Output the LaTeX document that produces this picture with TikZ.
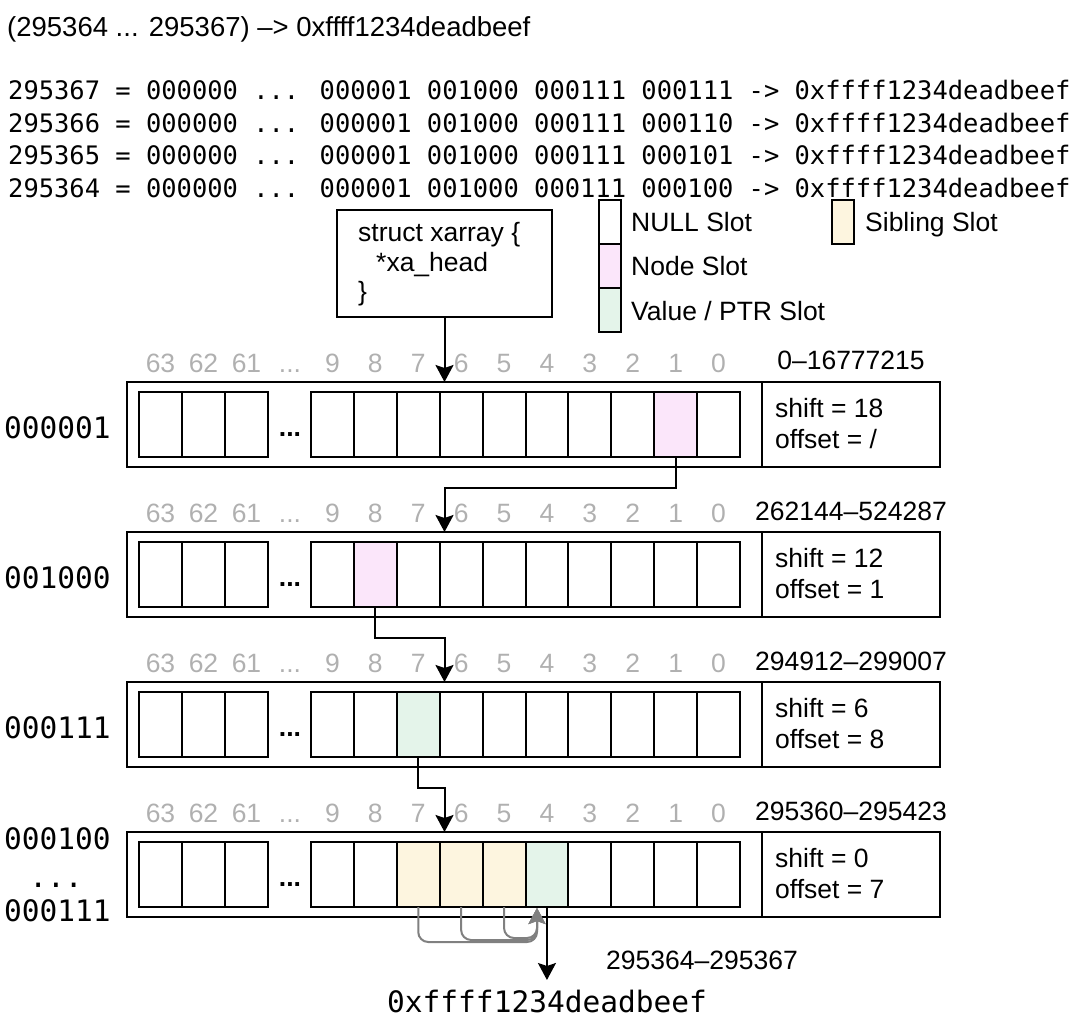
\documentclass[tikz,border=0pt]{standalone}
\usepackage{fontspec}
\setmainfont{Liberation Sans}
\newfontfamily\monofont{DejaVu Sans Mono}
\usetikzlibrary{arrows.meta}
\definecolor{nodec}{HTML}{FBE6FA}
\definecolor{valc}{HTML}{E4F4EA}
\definecolor{sibc}{HTML}{FDF5DF}
\definecolor{lblgrey}{HTML}{B0B0B0}
\definecolor{linkgrey}{HTML}{808080}
\begin{document}
\begin{tikzpicture}[x=1pt,y=-1pt,
  box/.style={draw, line width=2pt, inner sep=0pt, outer sep=0pt},
  slotbox/.style={box, minimum width=42.9pt, minimum height=65pt, anchor=north west},
  sans/.style={font=\fontsize{26.5}{31}\selectfont, inner sep=0pt},
  mono/.style={font=\monofont\fontsize{25.45}{30}\selectfont, inner sep=0pt, anchor=base west},
  bigmono/.style={font=\monofont\fontsize{29.5}{34}\selectfont, inner sep=0pt},
  lbl/.style={sans, text=lblgrey, anchor=base},
  arr/.style={line width=2pt, -{Stealth[length=17pt,width=18pt,inset=3pt]}},
  garr/.style={line width=2pt, linkgrey, rounded corners=10pt, -{Stealth[length=16pt,width=17pt,inset=3pt]}},
  f0-1/.style={fill=nodec},
  f1-8/.style={fill=nodec},
  f2-7/.style={fill=valc},
  f3-7/.style={fill=sibc},
  f3-6/.style={fill=sibc},
  f3-5/.style={fill=sibc},
  f3-4/.style={fill=valc}]
\useasboundingbox (0,0) rectangle (1080,1035);

% title and mono lines
\node[sans, font=\fontsize{27.5}{32}\selectfont, anchor=base west] (title) at (7,37) {(295364 ... 295367) –> 0xffff1234deadbeef};
\node[mono] (l1) at (8,100) {295367 = 000000 ... 000001 001000 000111 000111 -> 0xffff1234deadbeef};
\node[mono] (l2) at (8,132.5) {295366 = 000000 ... 000001 001000 000111 000110 -> 0xffff1234deadbeef};
\node[mono] (l3) at (8,165) {295365 = 000000 ... 000001 001000 000111 000101 -> 0xffff1234deadbeef};
\node[mono] (l4) at (8,197.5) {295364 = 000000 ... 000001 001000 000111 000100 -> 0xffff1234deadbeef};

% struct box
\node[box, minimum width=215pt, minimum height=107pt, anchor=north west] (xa) at (337,210) {};
\node[sans, anchor=base west] (xa1) at (358,242) {struct xarray \{};
\node[sans, anchor=base west] (xa2) at (376,272) {*xa\_head};
\node[sans, anchor=base west] (xa3) at (358,301) {\}};

% legend
\node[box, minimum width=22pt, minimum height=44pt, anchor=north west] (lnull) at (599,200) {};
\node[box, fill=nodec, minimum width=22pt, minimum height=44pt, anchor=north west] (lnode) at (599,244) {};
\node[box, fill=valc, minimum width=22pt, minimum height=44pt, anchor=north west] (lval) at (599,288) {};
\node[box, fill=sibc, minimum width=22pt, minimum height=44pt, anchor=north west] (lsib) at (832,200) {};
\node[sans, anchor=base west] (tnull) at (631,232) {NULL Slot};
\node[sans, anchor=base west] (tnode) at (631,276) {Node Slot};
\node[sans, anchor=base west] (tval) at (631,320) {Value / PTR Slot};
\node[sans, anchor=base west] (tsib) at (865,232) {Sibling Slot};

% rows
\foreach \r/\sh/\off/\rng in {0/18/{/}/0–16777215, 1/12/1/262144–524287, 2/6/8/294912–299007, 3/0/7/295360–295423} {
  \pgfmathsetmacro\T{382+150*\r}
  \node[box, minimum width=813pt, minimum height=85pt, anchor=north west] (row\r) at (127,\T) {};
  \draw[line width=2pt] (762,\T) -- (762,\T+85);
  \foreach \k/\x in {63/139,62/182,61/225} {
    \node[slotbox] (g\r-\k) at (\x,\T+10) {};
    \node[lbl] (gl\r-\k) at (\x+21.5,\T-10) {\k};
  }
  \node[lbl] (dl\r) at (290,\T-10) {...};
  \node[sans, anchor=base] (dots\r) at (290,\T+54) {\textbf{...}};
  \foreach \n in {9,8,7,6,5,4,3,2,1,0} {
    \pgfmathsetmacro\xx{311+42.9*(9-\n)}
    \node[slotbox, f\r-\n/.try] (s\r-\n) at (\xx,\T+10) {};
    \node[lbl] (sl\r-\n) at (\xx+21.45,\T-10) {\n};
  }
  \node[sans, anchor=base west] (sh\r) at (775,\T+35) {shift = \sh};
  \node[sans, anchor=base west] (of\r) at (775,\T+66) {offset = \off};
  \node[sans, anchor=base] (rg\r) at (851,\T-12) {\rng};
}

% row labels
\node[bigmono, anchor=base west] (rl0) at (4,438) {000001};
\node[bigmono, anchor=base west] (rl1) at (4,588) {001000};
\node[bigmono, anchor=base west] (rl2) at (4,738) {000111};
\node[bigmono, anchor=base west] (rl3a) at (4,849) {000100};
\node[bigmono, anchor=base] (rl3b) at (56,887) {...};
\node[bigmono, anchor=base west] (rl3c) at (4,921) {000111};

% connectors
\draw[arr] (xa.south) -- (xa.south |- row0.north);
\draw[arr] (s0-1.south) -- ++(0,31) -| (xa.south |- row1.north);
\draw[arr] (s1-8.south) -- ++(0,31) -| (xa.south |- row2.north);
\draw[arr] (s2-7.south) -- ++(0,31) -| (xa.south |- row3.north);

% sibling links
\coordinate (gtip) at (537,908);
\foreach \n/\yy in {7/942,6/940,5/938} {
  \draw[garr] (s3-\n.south) -- (s3-\n.south |- 0,\yy) -- (gtip |- 0,\yy) -- (gtip);
}

% output
\node[sans, anchor=base west] (rgout) at (606,969) {295364–295367};
\node[bigmono, anchor=base west] (outv) at (387,1012) {0xffff1234deadbeef};
\draw[arr] (s3-4.south) -- ++(0,73);
\end{tikzpicture}
\end{document}
